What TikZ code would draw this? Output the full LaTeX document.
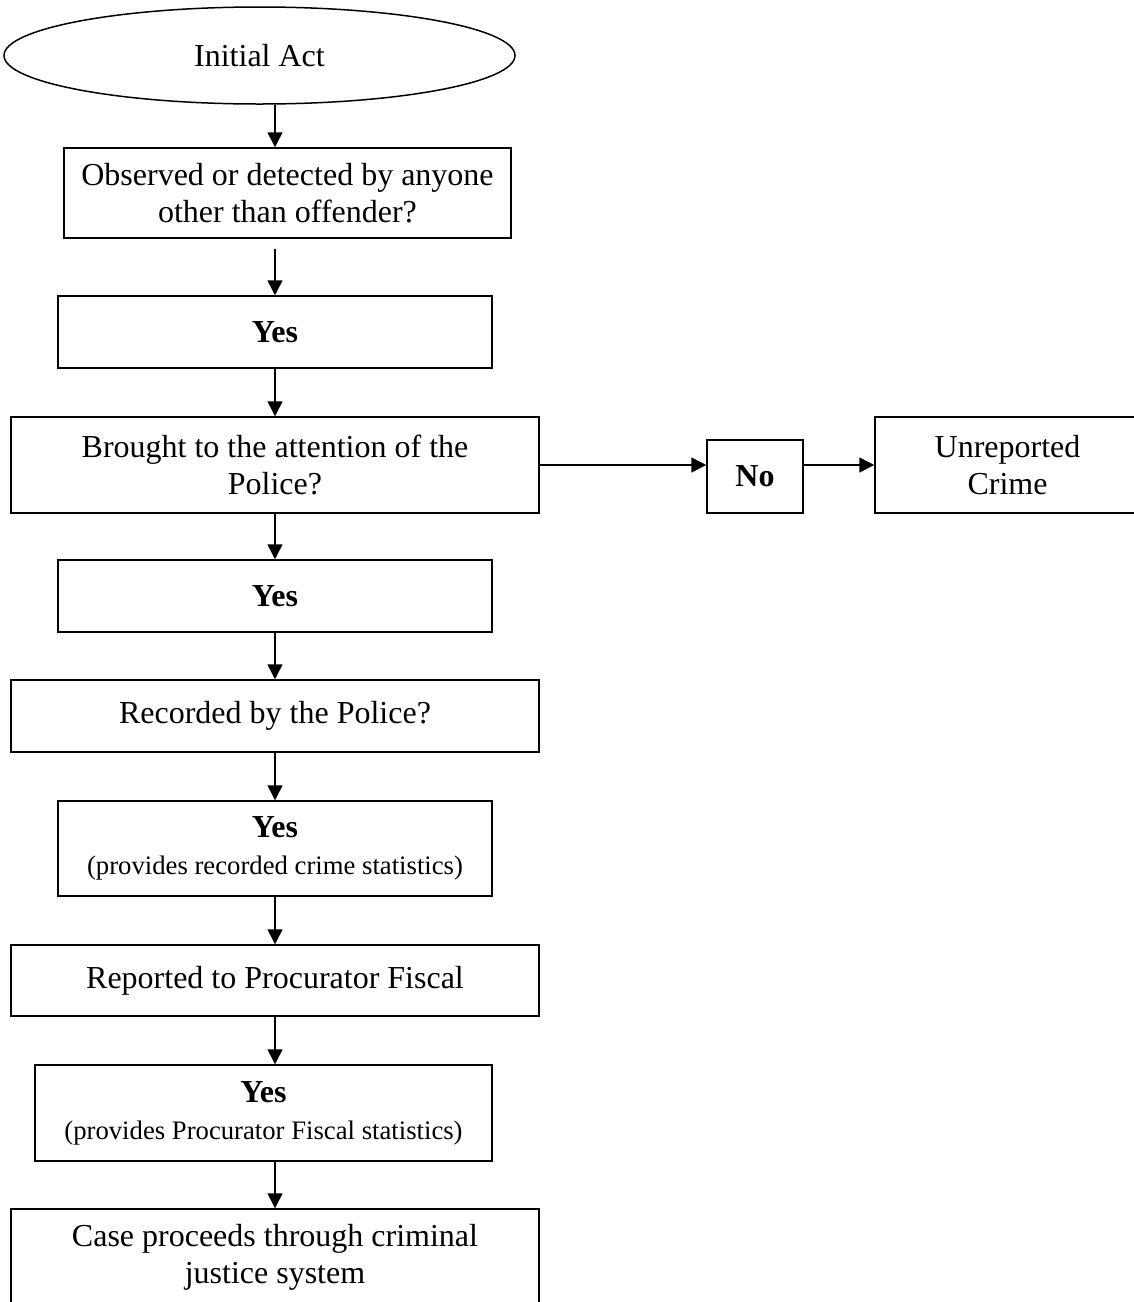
\documentclass[tikz,border=0pt]{standalone}
\usepackage{fontspec}
\setmainfont{Liberation Serif}
\usetikzlibrary{arrows.meta,shapes.geometric}
\tikzset{
  box/.style={draw, line width=1.5pt, align=center, inner sep=0pt, rectangle,
    font=\fontsize{32}{37}\selectfont},
  arr/.style={line width=1.5pt, -{Triangle[length=15pt,width=15pt]}},
}
\newcommand{\smalltxt}[1]{{\fontsize{26.7}{31}\selectfont #1}}
\begin{document}
\begin{tikzpicture}[x=1pt,y=-1pt]
\useasboundingbox (0,0) rectangle (1134,1302);
\begin{scope}
\clip (0,0) rectangle (1134,1302);
\node[box, ellipse, minimum width=511pt, minimum height=97pt] (e) at (259.5,55.5) {Initial Act};
\node[box, minimum width=447pt, minimum height=90pt] (b1) at (287.5,193) {Observed or detected by anyone\\other than offender?};
\node[box, minimum width=434pt, minimum height=72pt] (b2) at (275,332) {\textbf{Yes}};
\node[box, minimum width=528pt, minimum height=96pt] (b3) at (275,465) {Brought to the attention of the\\Police?};
\node[box, minimum width=96pt, minimum height=73pt] (no) at (755,476.5) {\textbf{No}};
\node[box, minimum width=265pt, minimum height=96pt] (un) at (1007.5,465) {Unreported\\Crime};
\node[box, minimum width=434pt, minimum height=72pt] (b4) at (275,596) {\textbf{Yes}};
\node[box, minimum width=528pt, minimum height=72pt] (b5) at (275,716) {Recorded by the Police?};
\node[box, minimum width=434pt, minimum height=95pt] (b6) at (275,848.5) {\textbf{Yes}\\\smalltxt{(provides recorded crime statistics)}};
\node[box, minimum width=528pt, minimum height=71pt] (b7) at (275,980.5) {Reported to Procurator Fiscal};
\node[box, minimum width=457pt, minimum height=96pt] (b8) at (263.5,1113) {\textbf{Yes}\\\smalltxt{(provides Procurator Fiscal statistics)}};
\node[box, minimum width=528pt, minimum height=96pt] (b9) at (275,1257) {Case proceeds through criminal\\justice system};
\end{scope}
\draw[arr] (b2.north |- e.south) -- (b2.north |- b1.north);
\draw[arr] ([yshift=-10pt]b2.north |- b1.south) -- (b2.north);
\draw[arr] (b2.south) -- (b3.north);
\draw[arr] (b3.east) -- (no.west |- b3.east);
\draw[arr] (no.east |- b3.east) -- (un.west |- b3.east);
\draw[arr] (b3.south) -- (b4.north);
\draw[arr] (b4.south) -- (b5.north);
\draw[arr] (b5.south) -- (b6.north);
\draw[arr] (b6.south) -- (b7.north);
\draw[arr] (b7.south) -- (b8.north -| b7.south);
\draw[arr] (b8.south -| b7.south) -- (b9.north);
\end{tikzpicture}
\end{document}
